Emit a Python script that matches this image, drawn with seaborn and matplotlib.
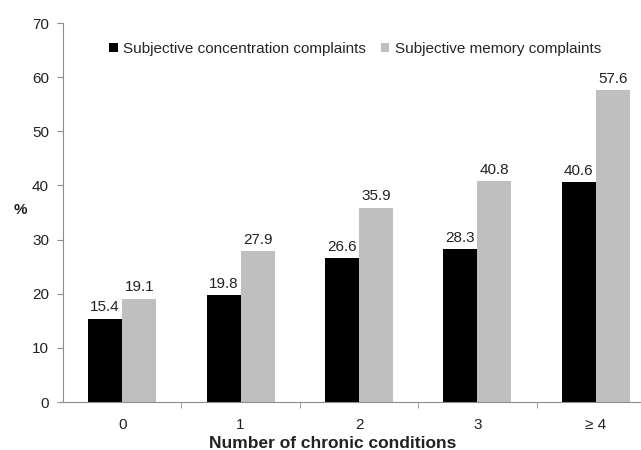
import matplotlib
matplotlib.use('Agg')
import matplotlib.pyplot as plt
import pandas as pd
import seaborn as sns

conditions = ['0', '1', '2', '3', '\u2265 4']
concentration = [15.4, 19.8, 26.6, 28.3, 40.6]
memory = [19.1, 27.9, 35.9, 40.8, 57.6]
series = ['Subjective concentration complaints', 'Subjective memory complaints']

df = pd.DataFrame({
    'conditions': conditions * 2,
    'value': concentration + memory,
    'series': [series[0]] * 5 + [series[1]] * 5,
})

sns.set_style('white')
plt.rcParams['font.family'] = ['Liberation Sans', 'DejaVu Sans']

fig = plt.figure(figsize=(6.41, 4.5), dpi=100)
ax = fig.add_axes([63 / 641, 48 / 450, 592 / 641, 379 / 450])

sns.barplot(data=df, x='conditions', y='value', hue='series',
            palette=['#000000', '#bfbfbf'], width=0.575, gap=0,
            saturation=1, linewidth=0, ax=ax)

for c in ax.containers:
    ax.bar_label(c, fmt='%.1f', padding=3, fontsize=11, color='#222222')

ax.set_xlim(-0.5, 4.5)
ax.set_ylim(0, 70)
ax.set_yticks(range(0, 71, 10))
ax.set_xticks([0.5, 1.5, 2.5, 3.5], minor=True)

grey = '#8c8c8c'
for s in ['top', 'right']:
    ax.spines[s].set_visible(False)
ax.spines['left'].set_color(grey)
ax.spines['bottom'].set_color(grey)
ax.tick_params(axis='y', which='major', left=True, length=4, color=grey,
               labelsize=11, labelcolor='#222222', pad=6)
ax.tick_params(axis='x', which='major', bottom=False, labelsize=11,
               labelcolor='#222222', pad=8)
ax.tick_params(axis='x', which='minor', bottom=True, length=4, color=grey)

ax.set_xlabel('')
ax.set_ylabel('')
fig.text(20 / 641, 1 - 210 / 450, '%', fontsize=11, fontweight='bold',
         ha='center', va='center', color='#222222')
fig.text(333 / 641, 1 - 443 / 450, 'Number of chronic conditions', fontsize=12.5,
         fontweight='bold', ha='center', va='center', color='#222222')

ax.legend(loc='center left', bbox_to_anchor=(103 / 641, 1 - 49 / 450),
          bbox_transform=fig.transFigure, ncol=2, frameon=False,
          handlelength=0.55, handleheight=0.55, handletextpad=0.35,
          columnspacing=1.0, fontsize=11, borderaxespad=0)

fig.savefig('out.png', dpi=100)
